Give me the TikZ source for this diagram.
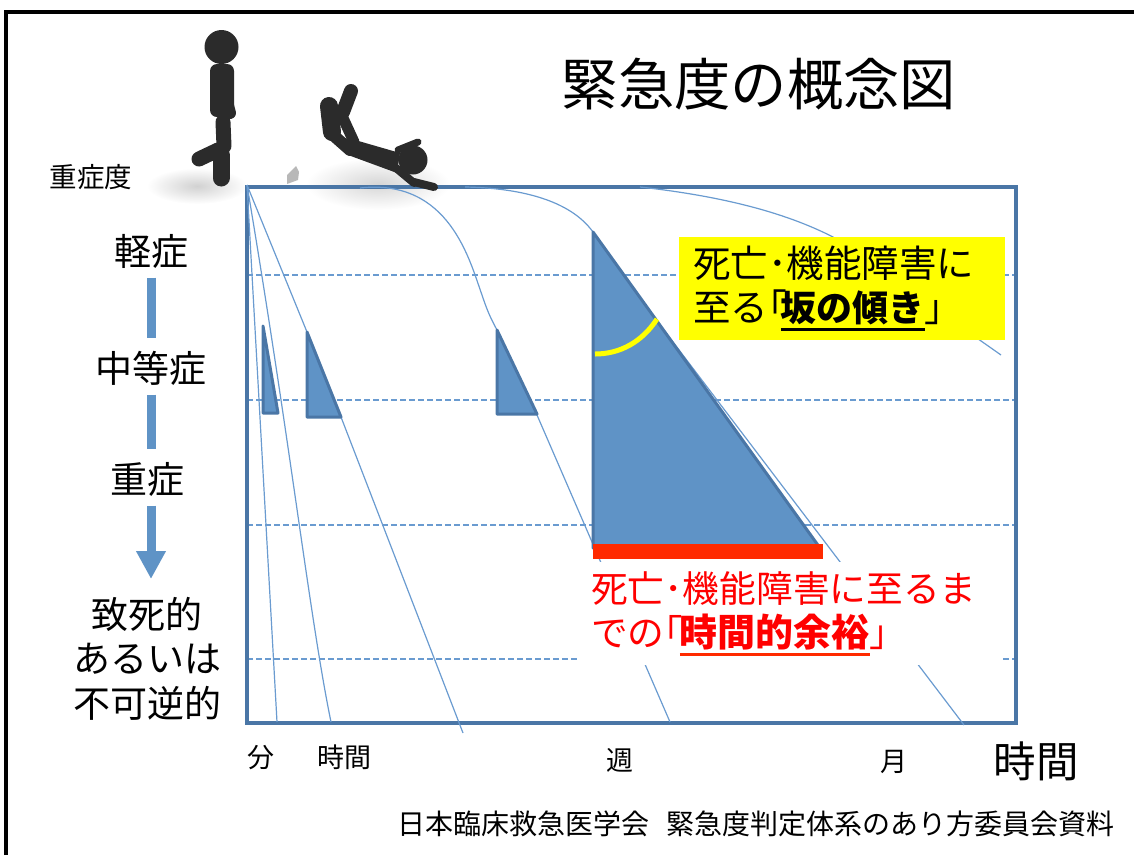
\documentclass[tikz,border=0pt]{standalone}
\usepackage{fontspec}
\setmainfont{Noto Sans CJK JP}
\usepackage{xcolor}
\usetikzlibrary{positioning, arrows.meta}
\definecolor{framecol}{HTML}{4A76A6}
\definecolor{fillcol}{HTML}{5F93C6}
\definecolor{curvecol}{HTML}{6A9BD0}
\definecolor{manCol}{HTML}{2B2B2B}
\definecolor{barred}{HTML}{FF2A00}
\definecolor{noteyellow}{rgb}{1,1,0}
% bold words with a heavy rule below: colour, size, words
\newcommand{\ulbold}[3]{\sbox0{\fontsize{#2}{44}\selectfont\bfseries #3}\rlap{\color{#1}\rule[-10pt]{\wd0}{3pt}}\usebox0}

\begin{document}
\begin{tikzpicture}[x=1pt,y=-1pt,
    curve/.style={curvecol,line width=1.2pt},
    level line/.style={curvecol,line width=1.1pt,dash pattern=on 6pt off 3pt},
    slope/.style={fill=fillcol,draw=framecol,line width=3pt,line join=round},
    scale arrow/.style={fillcol,line width=9pt,shorten >=9pt,shorten <=5.5pt},
    sev label/.style={inner sep=0pt,outer sep=4pt,font=\fontsize{37}{44.5}\selectfont},
    time label/.style={inner sep=0pt,font=\fontsize{27}{30}\selectfont},
    limb/.style={manCol,line cap=round}]

    \useasboundingbox (0,0) rectangle (1134,855);
    \draw[black,line width=3.5pt] (6,855) -- (6,12) -- (1134,12);

    \node[inner sep=0pt,font=\fontsize{56.3}{60}\selectfont] (title) at (759,84) {緊急度の概念図};

    % shadows under the two figures
    \shade[inner color=black!18,outer color=white] (197,186) ellipse (50pt and 18pt);
    \shade[inner color=black!16,outer color=white] (378,184) ellipse (72pt and 26pt);

    % plot frame and severity levels
    \foreach \y in {275,400,525,659}
        \draw[level line] (247,\y) -- (1016,\y);
    \draw[framecol,line width=4pt] (247,187) rectangle (1016,723);

    \coordinate (origin) at (247,185);
    \draw[curve] (origin) -- (277,722);
    \draw[curve] (origin) .. controls (290,440) and (310,620) .. (331,722);
    \draw[curve] (origin) -- (307,332);
    \draw[curve] (341,417) -- (463,733);
    \draw[curve] (360,188) .. controls (450,178) and (470,262) .. (482,295) .. controls (487,310) and (490,317) .. (497,330);
    \draw[curve] (537,415) -- (670,722);
    \draw[curve] (465,187) .. controls (520,188) and (570,200) .. (593,232);
    \draw[curve] (660,325) -- (964,725);
    \draw[curve] (640,187) .. controls (730,197) and (790,215) .. (833,237) -- (1001,355);

    % slope triangles
    \draw[slope] (263,326) -- (278,413) -- (263,413) -- cycle;
    \draw[slope] (307,332) -- (341,417) -- (307,417) -- cycle;
    \draw[slope] (497,330) -- (537,414) -- (497,414) -- cycle;
    \draw[slope] (593,232) -- (820,548) -- (593,548) -- cycle;
    \draw[noteyellow,line width=5pt] (595,354) .. controls (620,354) and (642,342) .. (657,319);
    \fill[barred] (593,544) rectangle (823,559);

    % callouts
    \node[fill=noteyellow,anchor=north west,inner ysep=0pt,inner xsep=14pt,minimum height=103pt,
          text width=298pt,align=left,font=\fontsize{37.5}{44}\selectfont] (slopenote) at (679,237)
          {死亡･機能障害に\\至る｢\hspace{-6pt}\ulbold{black}{36}{坂の傾き}｣};
    \node[fill=white,text=red,anchor=north west,inner ysep=0pt,inner xsep=13pt,minimum height=103pt,
          text width=398pt,align=left,font=\fontsize{36.7}{44}\selectfont] (marginnote) at (578,562)
          {死亡･機能障害に至るま\\での｢\hspace{-3pt}\ulbold{barred}{38}{時間的余裕}｣};

    % severity scale
    \node[inner sep=0pt,font=\fontsize{27.5}{30}\selectfont] (sevtitle) at (91,177) {重症度};
    \node[sev label] (mild) at (151,251) {軽症};
    \node[sev label] (moderate) at (151,368) {中等症};
    \node[sev label] (severe) at (147,479) {重症};
    \node[sev label,align=center,anchor=north] (fatal) at (147,593) {致死的\\あるいは\\不可逆的};
    \draw[scale arrow] (mild.south -| moderate) -- (moderate);
    \draw[scale arrow] (moderate) -- (severe.north -| moderate);
    \draw[scale arrow,shorten >=14pt,-{Triangle[width=28pt,length=28pt]}] (severe.south -| moderate) -- (fatal.north -| moderate);

    % time axis
    \node[time label] (tmin) at (261,758) {分};
    \node[time label] (thour) at (344,757) {時間};
    \node[time label] (tweek) at (620,760) {週};
    \node[time label] (tmonth) at (894,762) {月};
    \node[inner sep=0pt,font=\fontsize{42.5}{46}\selectfont] (taxis) at (1036,761) {時間};
    \node[inner sep=0pt,anchor=east,font=\fontsize{28}{30}\selectfont] (source) at (1115,824)
        {日本臨床救急医学会\hspace{17pt}緊急度判定体系のあり方委員会資料};

    % standing figure
    \fill[manCol] (221.5,47) circle (17);
    \fill[manCol,rounded corners=7pt] (210,64) rectangle (234,117);
    \draw[limb,line width=12pt] (226,98) -- (230,113);
    \draw[limb,line width=15pt] (223,122) -- (224,146);
    \draw[limb,line width=15pt] (218,150) -- (199,159);
    \draw[limb,line width=17pt] (221,155) -- (221,178);

    % fallen figure
    \fill[manCol] (413,160) circle (14.5);
    \fill[manCol] (355,140) -- (400,153) -- (397,173) -- (348,155) -- cycle;
    \draw[limb,line width=18pt] (329,106) -- (332,132);
    \draw[limb,line width=14pt] (351,91) -- (343,112);
    \draw[limb,line width=11pt] (343,118) -- (354,142);
    \draw[limb,line width=12pt] (333,135) -- (350,150);
    \draw[limb,line width=7pt] (398,150) -- (418,142);
    \draw[limb,line width=8pt] (396,168) -- (414,183);
    \draw[limb,line width=8pt] (414,182) -- (434,187);

    % block lying next to the fallen figure
    \fill[black!28] (287,175) -- (296,166) -- (299,172) -- (298,180) -- (287,184) -- cycle;
\end{tikzpicture}
\end{document}
